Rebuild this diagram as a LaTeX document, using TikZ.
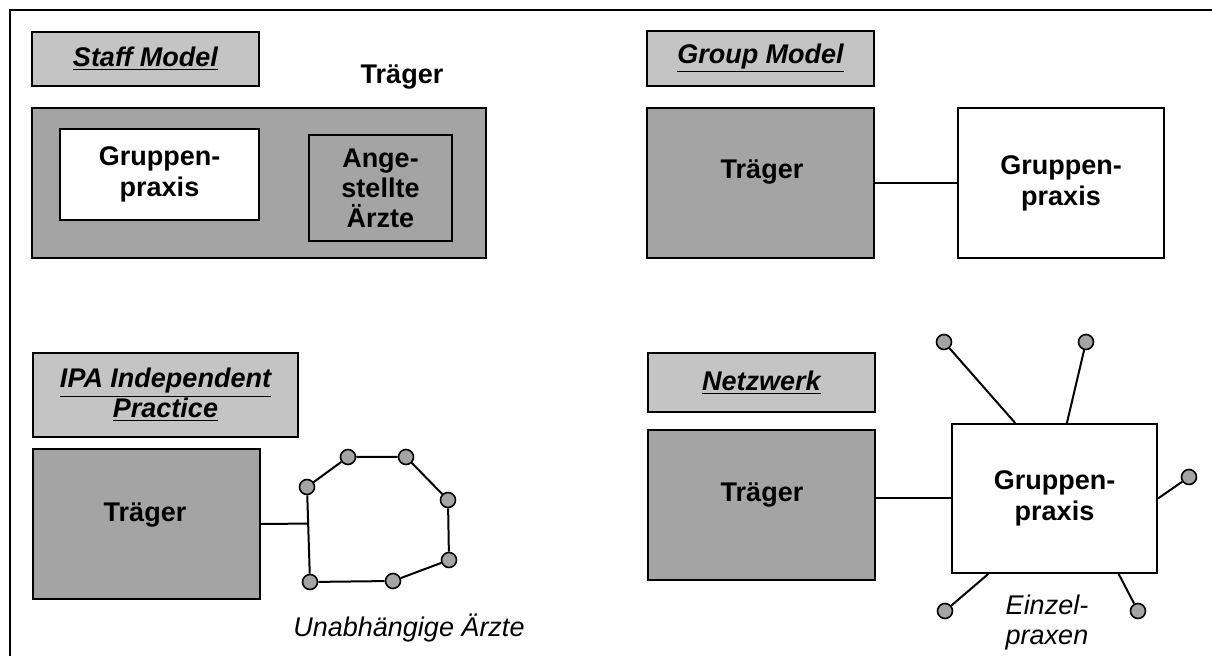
\documentclass[tikz,border=0pt]{standalone}
\usepackage{fontspec}
\setmainfont{Liberation Sans}
\usetikzlibrary{calc}
\definecolor{lightshade}{HTML}{C4C4C4}
\definecolor{darkshade}{HTML}{A4A4A4}
\begin{document}
\begin{tikzpicture}[x=0.5pt,y=-0.5pt,
  frameline/.style={line width=1pt},
  headbox/.style={draw, line width=1pt, fill=lightshade, inner sep=0pt, align=center,
    font=\fontsize{13.5}{15}\selectfont\bfseries\itshape},
  shadebox/.style={draw, line width=1pt, fill=darkshade, inner sep=0pt, align=center,
    font=\fontsize{13.5}{15}\selectfont\bfseries},
  whitebox/.style={draw, line width=1pt, fill=white, inner sep=0pt, align=center,
    font=\fontsize{13.5}{15.5}\selectfont\bfseries},
  boldtext/.style={inner sep=0pt, align=center, font=\fontsize{13.5}{15}\selectfont\bfseries},
  italtext/.style={inner sep=0pt, align=center, font=\fontsize{13.5}{15}\selectfont\itshape},
  conn/.style={line width=1pt},
  dotnode/.style={circle, draw, line width=0.8pt, fill=darkshade, minimum size=7.5pt, inner sep=0pt}]
\useasboundingbox (0,0) rectangle (1212,656);
\fill[white] (0,0) rectangle (1212,656);

% outer frame
\draw[frameline] (10,656) -- (10,10) -- (1212,10);

% Staff Model
\node[headbox, minimum width=113.5pt, minimum height=27pt] (staffL) at (145.5,59) {\underline{Staff Model}};
\node[boldtext] (staffTlbl) at (402,77) {Träger};
\node[shadebox, minimum width=227pt, minimum height=75pt] (staffT) at (259,183) {};
\node[whitebox, minimum width=99.5pt, minimum height=45.5pt] (staffG) at (159.5,174.5) {Gruppen-\\praxis};
\node[shadebox, line width=0.7pt, minimum width=71.5pt, minimum height=53pt] (staffA) at (380.5,188) {Ange-\\stellte\\Ärzte};

% Group Model
\node[headbox, minimum width=113.5pt, minimum height=27.5pt] (groupL) at (760.5,58.5) {\underline{Group Model}};
\node[shadebox, minimum width=113.5pt, minimum height=75pt] (groupT) at (760.5,183) {};
\node[boldtext] (groupTtxt) at (762,172) {Träger};
\node[whitebox, minimum width=103pt, minimum height=75pt] (groupG) at (1061,183) {Gruppen-\\praxis};
\draw[conn] (groupT.east) -- (groupG.west);

% IPA Independent Practice
\node[headbox, minimum width=132.5pt, minimum height=42pt] (ipaL) at (165.5,395) {\underline{IPA Independent}\\\underline{Practice}};
\node[shadebox, minimum width=113.5pt, minimum height=75pt] (ipaT) at (146.5,524) {};
\node[boldtext] (ipaTtxt) at (145,515) {Träger};
\node[dotnode] (p1) at (307,487) {};
\node[dotnode] (p2) at (348,457) {};
\node[dotnode] (p3) at (406,457) {};
\node[dotnode] (p4) at (448,500) {};
\node[dotnode] (p5) at (449,560) {};
\node[dotnode] (p6) at (393,581) {};
\node[dotnode] (p7) at (310,582) {};
\draw[conn] (p1) -- (p2) -- (p3) -- (p4) -- (p5) -- (p6) -- (p7) -- (p1);
\coordinate (ipaJ) at ($(p1)!0.385!(p7)$);
\draw[conn] (ipaT.east) -- (ipaJ);
\node[italtext] (ipaTxt) at (409,628) {Unabhängige Ärzte};

% Netzwerk
\node[headbox, minimum width=113.5pt, minimum height=29.5pt] (netL) at (761.5,382.5) {\underline{Netzwerk}};
\node[shadebox, minimum width=113.5pt, minimum height=75pt] (netT) at (761.5,505) {};
\node[boldtext] (netTtxt) at (762,495) {Träger};
\node[whitebox, minimum width=102.5pt, minimum height=74.5pt] (netG) at (1054.5,498.5) {Gruppen-\\praxis};
\draw[conn] (netT.east |- netG.west) -- (netG.west);
\node[dotnode] (n1) at (944,342) {};
\node[dotnode] (n2) at (1086,342) {};
\node[dotnode] (n3) at (1189,477) {};
\node[dotnode] (n4) at (945,611) {};
\node[dotnode] (n5) at (1138,611) {};
\draw[conn] (n1) -- ($(netG.north west)!0.31!(netG.north east)$);
\draw[conn] (n2) -- ($(netG.north west)!0.56!(netG.north east)$);
\draw[conn] (n3) -- (netG.east);
\draw[conn] (n4) -- ($(netG.south west)!0.18!(netG.south east)$);
\draw[conn] (n5) -- ($(netG.south west)!0.81!(netG.south east)$);
\node[italtext] (netTxt) at (1047,623) {Einzel-\\praxen};
\end{tikzpicture}
\end{document}
